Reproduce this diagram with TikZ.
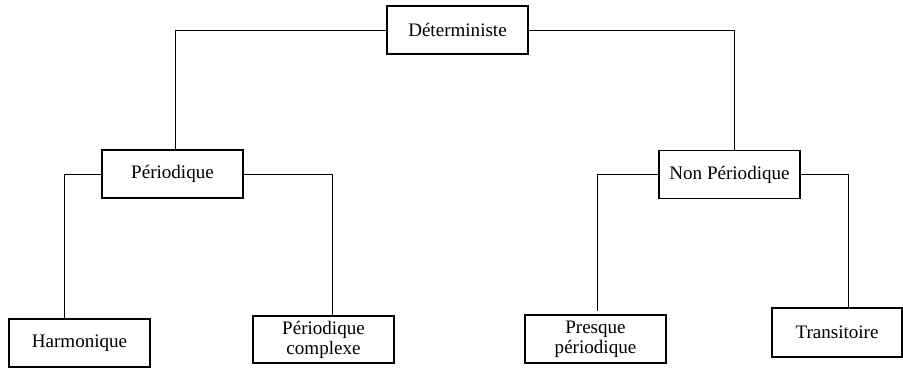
\documentclass[tikz,border=0pt]{standalone}
\usepackage{fontspec}
\setmainfont{Liberation Serif}
\begin{document}
\begin{tikzpicture}[x=0.75pt, y=-0.75pt, font=\fontsize{14.3}{15}\selectfont,
    box/.style={draw, rectangle, line width=0.9pt, inner sep=0pt, align=center, minimum width=105.75pt, minimum height=36pt},
    link/.style={line width=0.6pt}]
        \useasboundingbox (0, 0) rectangle (903, 369);

        % Boxes
        \node[box] (det) at (457.5, 30) {D\'eterministe};
        \node[box] (per) at (172.5, 174) {P\'eriodique};
        \node[box] (nonper) at (729.5, 174.5) {Non P\'eriodique};
        \node[box] (harm) at (79.5, 343) {Harmonique};
        \node[box, minimum height=35.25pt] (percx) at (323.5, 339.5) {P\'eriodique\\complexe};
        \node[box] (presque) at (595.5, 339) {Presque\\p\'eriodique};
        \node[box, minimum width=97.5pt, minimum height=36.75pt] (trans) at (837, 332.5) {Transitoire};

        % Links
        \draw[link] (det.west) -| ([xshift=1.9pt]per.north);
        \draw[link] (det.east) -| ([xshift=3.4pt]nonper.north);
        \draw[link] (per.west) -| ([xshift=-11.6pt]harm.north);
        \draw[link] (per.east) -| ([xshift=6.4pt]percx.north);
        \draw[link] (nonper.west) -| ([xshift=1.1pt, yshift=2.25pt]presque.north);
        \draw[link] (nonper.east) -| ([xshift=8.25pt]trans.north);
    \end{tikzpicture}
\end{document}
